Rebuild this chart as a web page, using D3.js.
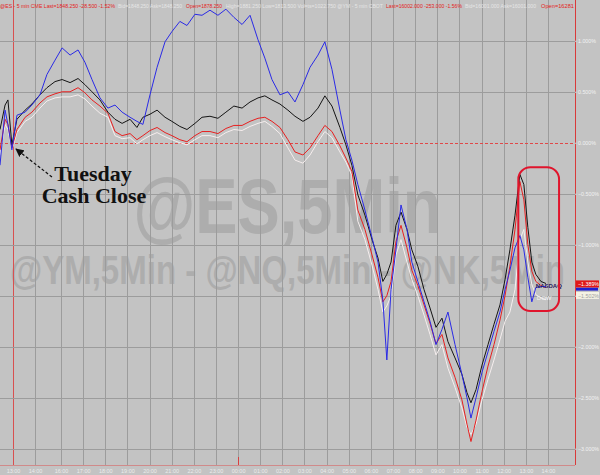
<!DOCTYPE html>
<html><head><meta charset="utf-8">
<script src="https://cdn.jsdelivr.net/npm/d3@7"></script>
<style>body{margin:0;background:#c3c3c3;} svg{display:block}</style>
</head><body><svg id="c" width="600" height="475"></svg>
<script>
// ---- data ----
const hourLabels = ["13:00","14:00","16:00","17:00","18:00","19:00","20:00","21:00","22:00","23:00","00:00","01:00","02:00","03:00","04:00","05:00","06:00","07:00","08:00","09:00","10:00","11:00","12:00","13:00","14:00"];
const pctTicks = [1.0, 0.5, 0, -0.5, -1.0, -1.5, -2.0, -2.5, -3.0];
const hiddenTickLabels = [-1.5]; // covered by the value tags in the original
const hoursFromClose = [-0.59,-0.36,-0.23,-0.05,0.18,0.55,0.86,1.19,1.46,1.77,
  2.05,2.41,2.77,3.08,3.40,3.76,4.12,4.44,4.76,5.12,
  5.43,5.70,6.02,6.34,6.70,7.01,7.37,7.69,8.05,8.37,
  8.73,9.09,9.45,9.81,10.18,10.54,10.90,11.21,11.53,11.89,
  12.25,12.57,12.93,13.25,13.61,13.92,14.24,14.60,14.87,15.14,
  15.41,15.73,16.05,16.32,16.54,16.72,16.91,17.13,17.36,17.63,
  17.85,18.12,18.40,18.67,18.94,19.21,19.48,19.80,20.11,20.34,
  20.52,20.75,21.02,21.29,21.56,21.83,22.06,22.28,22.51,22.73,
  22.91,23.09,23.27,23.45,23.68,23.91];
const nqValues = [-0.22,0.32,0.18,-0.07,0.27,0.30,0.37,0.47,0.67,0.81,
  0.93,0.86,0.91,0.79,0.62,0.44,0.34,0.37,0.30,0.25,
  0.21,0.18,0.47,0.74,0.99,1.09,1.19,1.15,1.26,1.25,
  1.30,1.25,1.31,1.23,1.16,1.25,1.01,0.83,0.62,0.47,
  0.50,0.40,0.57,0.74,0.86,0.99,0.72,0.32,0.03,-0.17,
  -0.41,-0.66,-0.93,-1.17,-1.54,-2.13,-1.44,-1.05,-0.61,-0.85,
  -1.17,-1.36,-1.56,-1.75,-1.98,-1.83,-1.66,-1.98,-2.27,-2.50,
  -2.70,-2.50,-2.25,-2.05,-1.85,-1.66,-1.44,-1.25,-1.03,-0.91,
  -1.05,-1.32,-1.56,-1.42,-1.41,-1.41];
const nkValues = [0.13,0.37,0.42,-0.02,0.23,0.32,0.38,0.47,0.54,0.60,
  0.62,0.59,0.63,0.57,0.50,0.42,0.30,0.23,0.19,0.23,
  0.15,0.25,0.28,0.32,0.25,0.21,0.16,0.13,0.19,0.25,
  0.26,0.24,0.30,0.36,0.34,0.40,0.44,0.46,0.42,0.38,
  0.32,0.26,0.21,0.25,0.34,0.46,0.36,0.15,-0.02,-0.22,
  -0.51,-0.71,-0.95,-1.13,-1.36,-1.29,-1.17,-0.81,-0.68,-0.85,
  -1.05,-1.21,-1.44,-1.62,-1.81,-1.72,-1.95,-2.11,-2.27,-2.45,
  -2.55,-2.42,-2.18,-1.98,-1.78,-1.59,-1.34,-1.05,-0.71,-0.31,
  -0.41,-0.83,-1.17,-1.29,-1.36,-1.38];
const esValues = [-0.07,0.23,0.18,-0.05,0.13,0.25,0.30,0.39,0.45,0.48,
  0.50,0.50,0.54,0.49,0.42,0.36,0.29,0.11,0.07,0.09,
  0.03,0.07,0.12,0.15,0.10,0.07,0.03,0.01,0.07,0.11,
  0.11,0.09,0.14,0.17,0.17,0.21,0.24,0.25,0.21,0.15,
  0.03,-0.09,-0.12,-0.05,0.07,0.17,0.11,-0.03,-0.15,-0.28,
  -0.66,-0.85,-1.10,-1.32,-1.56,-1.50,-1.36,-0.97,-0.81,-1.03,
  -1.25,-1.40,-1.59,-1.77,-1.97,-1.88,-2.11,-2.30,-2.52,-2.76,
  -2.93,-2.72,-2.44,-2.19,-1.98,-1.74,-1.50,-1.21,-0.85,-0.38,
  -0.56,-1.00,-1.26,-1.36,-1.40,-1.42];
const ymValues = [-0.12,0.18,0.13,-0.07,0.10,0.21,0.25,0.34,0.41,0.44,
  0.45,0.45,0.47,0.43,0.36,0.29,0.25,0.07,0.04,0.05,
  -0.01,0.03,0.07,0.10,0.06,0.03,0.00,-0.02,0.03,0.07,
  0.07,0.05,0.10,0.13,0.12,0.16,0.19,0.21,0.16,0.09,
  -0.05,-0.17,-0.20,-0.12,0.01,0.11,0.05,-0.09,-0.19,-0.32,
  -0.77,-0.95,-1.20,-1.44,-1.66,-1.60,-1.50,-1.10,-0.95,-1.17,
  -1.34,-1.50,-1.69,-1.88,-2.08,-1.98,-2.21,-2.40,-2.60,-2.79,
  -2.86,-2.76,-2.52,-2.32,-2.13,-1.93,-1.75,-1.66,-1.44,-0.95,
  -0.85,-1.17,-1.39,-1.49,-1.52,-1.54];
const tagValues = [-1.389, -1.435, -1.502];
const headerSegments = [
  {t:"@ES - 5 min CME  Last=1848.250  -28.500  -1.52%", c:"red", x0:0, x1:115},
  {t:"Bid=1848.250  Ask=1848.250", c:"light", x0:118, x1:182},
  {t:"Open=1878.250", c:"red", x0:186, x1:222},
  {t:"High=1881.250  Low=1813.500  Vol=ts=1022.750  @YM - 5 min CBOT", c:"light", x0:226, x1:383},
  {t:"Last=16002.000  -253.000  -1.56%", c:"red", x0:386, x1:462},
  {t:"Bid=16001.000  Ask=16001.000", c:"light", x0:465, x1:536},
  {t:"Open=16281", c:"red", x0:541, x1:574}
];

// ---- chart ----
const svg = d3.select("#c");
const W = 600, H = 475, plotR = 575, plotB = 465;
const x = d3.scaleLinear().domain([-0.59, 0, 1, 2, 25.22]).range([0, 13, 35, 61, plotR]);
const y = d3.scaleLinear().domain([1.4, -3.16]).range([0, plotB]);
const sans = "Liberation Sans, Arial, sans-serif";

svg.append("rect").attr("width", W).attr("height", H).attr("fill", "#c3c3c3");

// watermarks
const cx = plotR / 2;
svg.append("text").attr("x", cx).attr("y", 233).attr("text-anchor", "middle")
  .attr("font-family", sans).attr("font-weight", "bold")
  .attr("font-size", 78).attr("textLength", 308).attr("lengthAdjust", "spacingAndGlyphs")
  .attr("fill", "#adadad").text("@ES,5Min");
svg.append("text").attr("x", cx).attr("y", 284).attr("text-anchor", "middle")
  .attr("font-family", sans).attr("font-weight", "bold")
  .attr("font-size", 40).attr("textLength", 555).attr("lengthAdjust", "spacingAndGlyphs")
  .attr("fill", "#adadad").text("@YM,5Min - @NQ,5Min - @NK,5Min");

// vertical grid
const hours = d3.range(hourLabels.length);
svg.append("g").selectAll("line").data(hours).join("line")
  .attr("x1", d => Math.round(x(d)) + 0.5).attr("x2", d => Math.round(x(d)) + 0.5)
  .attr("y1", 0).attr("y2", plotB)
  .attr("stroke", d => d === 0 ? "#d85050" : "#9c9c9c").attr("stroke-width", 1);
// day separator tick
svg.append("line").attr("x1", Math.round(x(10)) + 0.5).attr("x2", Math.round(x(10)) + 0.5)
  .attr("y1", plotB - 8).attr("y2", plotB).attr("stroke", "#d84040");

// horizontal grid
svg.append("g").selectAll("line").data(pctTicks).join("line")
  .attr("x1", 0).attr("x2", plotR)
  .attr("y1", d => Math.round(y(d)) + 0.5).attr("y2", d => Math.round(y(d)) + 0.5)
  .attr("stroke", d => d === 0 ? "#e04848" : "#9c9c9c")
  .attr("stroke-dasharray", d => d === 0 ? "3,2" : null);

// plot borders
svg.append("line").attr("x1", plotR + 0.5).attr("x2", plotR + 0.5).attr("y1", 0).attr("y2", plotB)
  .attr("stroke", "#d83a3a");
svg.append("line").attr("x1", 0).attr("x2", plotR).attr("y1", plotB + 0.5).attr("y2", plotB + 0.5)
  .attr("stroke", "#d08a8a");

// axes
const yAxis = svg.append("g").attr("transform", `translate(${plotR},0)`)
  .call(d3.axisRight(y).tickValues(pctTicks).tickSize(2)
    .tickFormat(d => hiddenTickLabels.includes(d) ? "" : d3.format(".3f")(d) + "%"));
yAxis.select(".domain").remove();
yAxis.selectAll("line").attr("stroke", "#d0d0d0");
yAxis.selectAll("text").attr("fill", "#f2f2f2").attr("font-size", 5.3)
  .attr("font-family", sans).attr("x", 3);

const xAxis = svg.append("g").attr("transform", `translate(0,${plotB})`)
  .call(d3.axisBottom(x).tickValues(hours).tickSize(0).tickFormat(i => hourLabels[i]));
xAxis.select(".domain").remove();
xAxis.selectAll("text").attr("fill", "#ececec").attr("font-size", 5.5)
  .attr("font-family", sans).attr("y", 4);

// series
const series = [
  {name: "DOW", vals: ymValues, color: "#f6eeee"},
  {name: "ES", vals: esValues, color: "#e82020"},
  {name: "NK", vals: nkValues, color: "#141414"},
  {name: "NASDAQ", vals: nqValues, color: "#2a2ae6"}
];
const line = d3.line().x((d, i) => x(hoursFromClose[i])).y(d => y(d));
svg.append("g").selectAll("path").data(series).join("path")
  .attr("d", s => line(s.vals)).attr("fill", "none")
  .attr("stroke", s => s.color).attr("stroke-width", 1).attr("stroke-linejoin", "round");

// end labels
const lastI = hoursFromClose.length - 1;
svg.append("text").attr("x", x(hoursFromClose[lastI - 2])).attr("y", y(nqValues[lastI]) + 1.5)
  .attr("font-size", 6).attr("font-weight", "bold").attr("font-family", sans)
  .attr("fill", "#2a1a5a").text("NASDAQ");
svg.append("text").attr("x", x(hoursFromClose[lastI - 2]) + 1).attr("y", y(ymValues[lastI]) + 0.5)
  .attr("font-size", 6).attr("font-family", sans)
  .attr("fill", "#f4f4f4").text("DOW");

// red highlight box
svg.append("rect").attr("x", x(22.66)).attr("y", y(-0.24)).attr("width", x(24.5) - x(22.66))
  .attr("height", y(-1.65) - y(-0.24)).attr("rx", 12)
  .attr("fill", "none").attr("stroke", "#e0142c").attr("stroke-width", 2);

// value tags on right axis
const tagG = svg.append("g");
tagG.append("rect").attr("x", plotR + 1).attr("y", y(tagValues[1]) - 1.5).attr("width", 22).attr("height", 3).attr("fill", "#2020d0");
tagG.append("rect").attr("x", plotR + 1).attr("y", y(tagValues[0]) - 4).attr("width", 23).attr("height", 7).attr("fill", "#e01818");
tagG.append("text").attr("x", plotR + 3).attr("y", y(tagValues[0]) + 2).attr("font-size", 5.3)
  .attr("font-family", sans).attr("fill", "#ffffff").text(d3.format(".3f")(tagValues[0]) + "%");
tagG.append("rect").attr("x", plotR + 1).attr("y", y(tagValues[2]) - 4).attr("width", 23).attr("height", 7).attr("fill", "#f4f2e4");
tagG.append("text").attr("x", plotR + 3).attr("y", y(tagValues[2]) + 2).attr("font-size", 5.3)
  .attr("font-family", sans).attr("fill", "#a0a0a0").text(d3.format(".3f")(tagValues[2]) + "%");

// header
svg.append("g").selectAll("text").data(headerSegments).join("text")
  .attr("x", d => d.x0).attr("y", 8).attr("font-size", 6)
  .attr("font-family", sans)
  .attr("textLength", d => d.x1 - d.x0).attr("lengthAdjust", "spacingAndGlyphs")
  .attr("fill", d => d.c === "red" ? "#e41c1c" : "#e6e6e6").text(d => d.t);

// annotation
const ann = svg.append("g").attr("font-family", "Liberation Serif, Times New Roman, serif")
  .attr("font-weight", "bold").attr("font-size", 22).attr("fill", "#111").attr("text-anchor", "middle");
ann.append("text").attr("x", 93).attr("y", 181).text("Tuesday");
ann.append("text").attr("x", 94).attr("y", 203).text("Cash Close");
svg.append("defs").append("marker").attr("id", "ah").attr("viewBox", "0 0 10 10")
  .attr("refX", 9).attr("refY", 5).attr("markerWidth", 7).attr("markerHeight", 7).attr("orient", "auto")
  .append("path").attr("d", "M0,0L10,5L0,10z").attr("fill", "#111");
svg.append("line").attr("x1", 52).attr("y1", 177).attr("x2", 16).attr("y2", 149)
  .attr("stroke", "#111").attr("stroke-width", 1.2).attr("stroke-dasharray", "3,2")
  .attr("marker-end", "url(#ah)");
</script>
</body></html>
